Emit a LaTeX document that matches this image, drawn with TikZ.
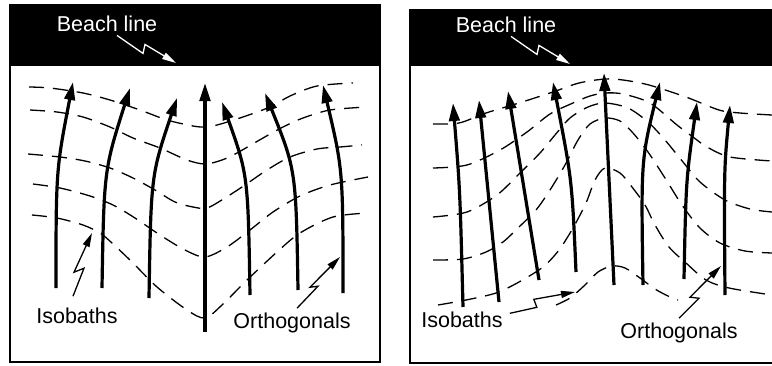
\documentclass[tikz,border=0pt]{standalone}
\usepackage{fontspec}
\setmainfont{Liberation Sans}
\usetikzlibrary{arrows.meta}

\tikzset{
  orthogonal/.style={line width=3.2pt,-{Triangle[length=18pt,width=10.5pt]}},
  isobath/.style={line width=1.3pt,dash pattern=on 15pt off 9pt},
  pointer/.style={line width=1.3pt,-{Triangle[length=14pt,width=7pt]}},
  lbl/.style={font=\fontsize{21.5}{25}\selectfont,inner sep=1pt,anchor=base},
  panel/.style={line width=2.5pt},
}

\begin{document}
\begin{tikzpicture}[x=1pt,y=-1pt]
  \useasboundingbox (0,0) rectangle (772,365);

  % left panel: beach and frame
  \fill (10,5) rectangle (380,66);
  \draw[panel] (10,5) rectangle (380,362);

  % left isobaths
  \draw[isobath] plot[smooth] coordinates {(29,87) (50,88) (83,93) (110,100) (140,110) (167,120) (193,126) (205,127) (217,125) (240,118) (270,107) (290,96) (317,86) (353,83)};
  \draw[isobath] plot[smooth] coordinates {(30,110) (57,112) (83,117) (110,127) (133,138) (160,148) (187,160) (205,164) (222,160) (237,153) (263,138) (283,127) (303,118) (330,110) (367,107)};
  \draw[isobath] plot[smooth] coordinates {(28,154) (60,157) (85,161) (110,168) (133,178) (155,190) (175,202) (193,207) (207,208) (225,198) (245,185) (267,170) (290,157) (317,149) (340,147) (362,145)};
  \draw[isobath] plot[smooth] coordinates {(33,184) (60,188) (90,196) (113,205) (135,218) (160,235) (185,250) (205,257) (227,247) (250,230) (273,212) (300,196) (330,185) (368,177)};
  \draw[isobath] plot[smooth] coordinates {(32,215) (57,218) (83,225) (100,233) (112,243) (133,263) (157,287) (187,310) (205,318) (222,305) (247,280) (277,252) (300,233) (333,217) (368,213)};

  % left orthogonals
  \draw[orthogonal] (56,288) .. controls (56,170) .. (73,82);
  \draw[orthogonal] (102,288) .. controls (104,170) .. (130,88);
  \draw[orthogonal] (149,298) .. controls (151,175) .. (177,98);
  \draw[orthogonal] (205,332) -- (205,83);
  \draw[orthogonal] (250,295) .. controls (248,175) .. (222,102);
  \draw[orthogonal] (298,290) .. controls (296,170) .. (265,93);
  \draw[orthogonal] (343,293) .. controls (343,170) .. (323,85);

  % left labels
  \node[lbl,text=white] (beachL) at (107,31) {Beach line};
  \node[lbl] (isoL) at (77,323) {Isobaths};
  \node[lbl] (orthL) at (292,328) {Orthogonals};
  \coordinate (beachLtip) at (176,63);
  \coordinate (isoLtip) at (92,233);
  \coordinate (orthLtip) at (340,257);
  \draw[pointer,white] (beachL.south) ++(10,3) -- ++(26,18) -- ++(2,-9) -- (beachLtip);
  \draw[pointer] (isoL.north) ++(-4,-10) -- ++(11,-28) -- ++(-10,4) -- (isoLtip);
  \draw[pointer] (orthL.north) ++(5,-3) -- ++(21,-22) -- ++(-8,1) -- (orthLtip);

  % right panel: beach and frame
  \fill (410,10) rectangle (775,66);
  \draw[panel] (775,10) -- (410,10) -- (410,363) -- (775,363);

  % right isobaths
  \draw[isobath] plot[smooth] coordinates {(433,124) (459,123) (486,113) (519,103) (553,92) (579,83) (605,79) (623,80) (649,85) (686,97) (719,110) (740,113) (772,115)};
  \draw[isobath] plot[smooth] coordinates {(433,168) (467,165) (500,150) (527,132) (550,114) (573,103) (590,96) (605,93) (623,94) (650,103) (677,125) (693,137) (707,147) (730,157) (772,161)};
  \draw[isobath] plot[smooth] coordinates {(433,217) (467,212) (497,195) (520,173) (540,153) (555,135) (570,118) (588,107) (605,103) (628,108) (648,122) (665,140) (683,162) (700,182) (725,200) (750,209) (772,212)};
  \draw[isobath] plot[smooth] coordinates {(433,260) (463,259) (486,252) (503,242) (519,227) (536,210) (550,190) (565,165) (578,140) (590,124) (605,118) (620,121) (633,133) (648,152) (665,178) (682,205) (700,228) (720,243) (745,251) (772,253)};
  \draw[isobath] plot[smooth] coordinates {(438,305) (466,300) (496,293) (519,282) (543,267) (559,250) (573,228) (586,203) (595,180) (605,168) (620,173) (632,187) (645,205) (655,225) (669,247) (686,263) (706,280) (729,288) (772,295)};
  \draw[isobath] plot[smooth] coordinates {(556,305) (570,298) (585,285) (598,272) (612,266) (625,268) (640,278) (655,289) (668,296) (678,300)};

  % right orthogonals
  \draw[orthogonal] (463,307) .. controls (460,190) .. (453,103);
  \draw[orthogonal] (499,302) -- (479,100);
  \draw[orthogonal] (539,280) -- (508,91);
  \draw[orthogonal] (576,272) .. controls (572,180) .. (553,82);
  \draw[orthogonal] (614,285) -- (604,73);
  \draw[orthogonal] (643,285) .. controls (641,160) .. (660,82);
  \draw[orthogonal] (684,279) .. controls (686,180) .. (697,102);
  \draw[orthogonal] (725,295) .. controls (724,170) .. (730,105);

  % right labels
  \node[lbl,text=white] (beachR) at (506,32) {Beach line};
  \node[lbl] (isoR) at (462,327) {Isobaths};
  \node[lbl] (orthR) at (679,338) {Orthogonals};
  \coordinate (beachRtip) at (570,64);
  \coordinate (isoRtip) at (575,292);
  \coordinate (orthRtip) at (721,266);
  \draw[pointer,white] (beachR.south) ++(5,3) -- ++(26,18) -- ++(2,-9) -- (beachRtip);
  \draw[pointer] (isoR.east) ++(6,-6) -- ++(27,-6) -- ++(-3,-8) -- (isoRtip);
  \draw[pointer] (orthR.north) ++(0,-3) -- ++(20,-20) -- ++(-9,-1) -- (orthRtip);
\end{tikzpicture}
\end{document}
